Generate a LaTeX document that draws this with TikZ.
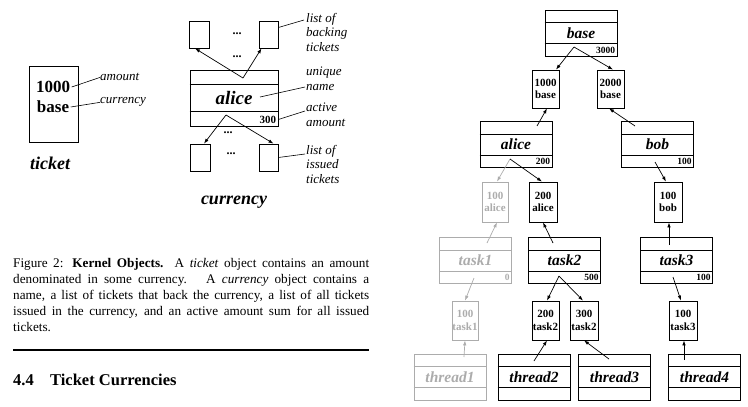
\documentclass[tikz,border=0pt]{standalone}
\usepackage{fontspec}
\setmainfont{Liberation Serif}
\usetikzlibrary{arrows.meta,calc}
\definecolor{lg}{RGB}{172,172,172}
\tikzset{
  box/.style={draw, line width=0.8pt, inner sep=0pt},
  tk/.style={box, minimum width=27pt, minimum height=38pt, align=center, font=\fontsize{11}{12.5}\selectfont\bfseries},
  smtk/.style={box, minimum width=20pt, minimum height=27pt},
  cb/.style={box, minimum width=72pt, minimum height=46pt, font=\fontsize{15.5}{16}\selectfont\bfseries\itshape},
  amt/.style={anchor=south east, inner xsep=2pt, inner ysep=3pt, font=\fontsize{9.5}{10}\selectfont\bfseries},
  arr/.style={line width=0.7pt, -{Latex[length=5pt,width=3.5pt]}},
  lbl/.style={anchor=west, align=left, inner sep=0pt, font=\fontsize{13}{14.5}\selectfont\itshape},
  thin/.style={line width=0.6pt},
  dots/.style={font=\fontsize{12}{12}\selectfont\bfseries, inner sep=0pt},
}
\newcommand\currbox[6][black]{%
  \node[cb, draw=#1, text=#1] (#2) at (#3,#4) {#5};
  \draw[#1, line width=0.8pt] ([yshift=-13pt]#2.north west) -- ([yshift=-13pt]#2.north east);
  \draw[#1, line width=0.8pt] ([yshift=13pt]#2.south west) -- ([yshift=13pt]#2.south east);
  \node[amt, text=#1] (#2amt) at (#2.south east) {#6};
}
\begin{document}
\begin{tikzpicture}[x=1pt,y=-1pt]
\useasboundingbox (0,0) rectangle (748,407);

% ---------------- ticket ----------------
\node[box, minimum width=49pt, minimum height=76pt] (ticket) at (53.5,104) {};
\node[font=\fontsize{17}{17}\selectfont\bfseries, inner sep=1.5pt] (tamt) at (53,87) {1000};
\node[font=\fontsize{17}{17}\selectfont\bfseries, inner sep=1.5pt] (tcur) at (53,107) {base};
\node[lbl, anchor=base west] (lamount) at (100,80) {amount};
\node[lbl, anchor=base west] (lcurrency) at (100,103) {currency};
\draw[thin] (tamt.east) -- ([yshift=-1pt]lamount.west);
\draw[thin] (tcur.east) -- ([yshift=-1pt]lcurrency.west);
\node[font=\fontsize{18}{18}\selectfont\bfseries\itshape] (tickettitle) at (50,163) {ticket};

% ---------------- currency ----------------
\node[smtk] (tb1) at (199,34.5) {};
\node[smtk, minimum width=19pt] (tb2) at (268.5,34.5) {};
\node[dots] (d1) at (237,34) {...};
\node[dots] (d2) at (237,57) {...};
\node[box, minimum width=88pt, minimum height=56pt, font=\fontsize{19}{19}\selectfont\bfseries\itshape] (calice) at (234,98) {alice};
\draw[line width=0.8pt] ([yshift=-15pt]calice.north west) -- ([yshift=-15pt]calice.north east);
\draw[line width=0.8pt] ([yshift=15pt]calice.south west) -- ([yshift=15pt]calice.south east);
\node[anchor=south east, inner xsep=2pt, inner ysep=3pt, font=\fontsize{11}{11}\selectfont\bfseries] (calamt) at (calice.south east) {300};
\coordinate (caup) at (243,78);
\coordinate (cadn) at (226,115);
\node[smtk] (ib1) at (200,157.5) {};
\node[smtk, minimum width=19pt] (ib2) at (268.5,157.5) {};
\node[dots] (d3) at (228,133) {...};
\node[dots] (d4) at (231,154) {...};
\draw[arr] (caup) -- ($(tb1.south)+(-4,0)$);
\draw[arr] (caup) -- ($(tb2.south)+(-7,0)$);
\draw[arr] (cadn) -- ($(ib1.north)+(4,0)$);
\draw[arr] (cadn) -- ($(ib2.north)+(5,0)$);

\node[lbl] (lback) at (306,32) {list of\\backing\\tickets};
\node[lbl] (luniq) at (306,79) {unique\\name};
\node[lbl] (lact) at (306,115) {active\\amount};
\node[lbl] (liss) at (306,164) {list of\\issued\\tickets};
\coordinate (cname) at (260,97);
\draw[thin] ([yshift=7pt]tb2.east) -- ([yshift=12pt,xshift=-2pt]lback.west);
\draw[thin] (cname) -- ([yshift=-8pt,xshift=-1pt]luniq.west);
\draw[thin] (calamt.east) -- ([yshift=4pt,xshift=-1pt]lact.west);
\draw[thin] (ib2.east) -- ([yshift=10pt,xshift=-1pt]liss.west);
\node[font=\fontsize{18}{18}\selectfont\bfseries\itshape] (currtitle) at (234,202) {currency};

% ---------------- caption ----------------
\node[anchor=north west, inner sep=0pt, text width=356pt, align=justify, font=\fontsize{13.2}{16}\selectfont] (cap) at (13,258)
{Figure 2: \textbf{Kernel Objects.} A \textit{ticket} object contains an amount\linebreak
denominated in some currency. \ A \textit{currency} object contains a\linebreak
name, a list of tickets that back the currency, a list of all tickets\linebreak
issued in the currency, and an active amount sum for all issued\linebreak
tickets.};
\coordinate (rl) at (13,350);
\coordinate (rr) at (369,350);
\draw[line width=2.8pt] (rl) -- (rr);
\node[anchor=base west, inner sep=0pt, font=\fontsize{16.5}{16.5}\selectfont\bfseries] (secnum) at (13,385) {4.4};
\node[anchor=base west, inner sep=0pt, font=\fontsize{16.5}{16.5}\selectfont\bfseries] (sectitle) at (50,385) {Ticket Currencies};

% ---------------- tree ----------------
\currbox{base}{581}{33}{base}{3000}
\currbox{alice}{516}{144.5}{alice}{200}
\currbox{bob}{657.5}{144.5}{bob}{100}
\currbox[lg]{task1}{475.5}{260.5}{task1}{0}
\currbox{task2}{564.5}{260.5}{task2}{500}
\currbox{task3}{676.5}{260.5}{task3}{100}
\currbox[lg]{thread1}{450}{377}{thread1}{}
\currbox{thread2}{534}{377}{thread2}{}
\currbox{thread3}{614.5}{377}{thread3}{}
\currbox{thread4}{704.5}{377}{thread4}{}

\node[tk] (t1000) at (545.5,89) {1000\\base};
\node[tk] (t2000) at (610.5,89) {2000\\base};
\node[tk, draw=lg, text=lg, minimum width=26pt, minimum height=40pt] (ta100) at (495,202) {100\\alice};
\node[tk, minimum width=28pt, minimum height=40pt] (ta200) at (543,202) {200\\alice};
\node[tk, minimum width=28pt, minimum height=40pt] (tb100) at (668,202) {100\\bob};
\node[tk, draw=lg, text=lg, minimum width=26pt, minimum height=39pt] (tt1) at (465,320.5) {100\\task1};
\node[tk, minimum height=39pt] (t2a) at (545.5,320.5) {200\\task2};
\node[tk, minimum width=28pt, minimum height=39pt] (t2b) at (584,320.5) {300\\task2};
\node[tk, minimum width=28pt, minimum height=39pt] (t3) at (683,320.5) {100\\task3};

\coordinate (baseo) at (574,47);
\coordinate (alicei) at (537,126);
\coordinate (aliceo) at (510,159);
\coordinate (bobi) at (635,126);
\coordinate (bobo) at (655,162);
\coordinate (task1i) at (487,243);
\coordinate (task1o) at (474,278);
\coordinate (task2i) at (553,243);
\coordinate (task2o) at (559,276);
\coordinate (task3i) at (669,245);
\coordinate (task3o) at (673,277);
\coordinate (thread1i) at (464,357);
\coordinate (thread2i) at (534,361);
\coordinate (thread3i) at (609,359);
\coordinate (thread4i) at (684,360);

\draw[arr] (baseo) -- ($(t1000.north)+(10.5,0)$);
\draw[arr] (baseo) -- ($(t2000.north)+(2.5,0)$);
\draw[arr] (alicei) -- ($(t1000.south)+(1.5,0)$);
\draw[arr] (bobi) -- ($(t2000.south)+(-1.5,0)$);
\draw[arr, lg] (aliceo) -- ($(ta100.north)+(2,0)$);
\draw[arr] (aliceo) -- ($(ta200.north)+(-1,0)$);
\draw[arr] (bobo) -- ($(tb100.north)+(-2,0)$);
\draw[arr, lg] (task1i) -- ($(ta100.south)+(2,0)$);
\draw[arr] (task2i) -- (ta200.south);
\draw[arr] (task3i) -- ($(tb100.south)+(1,0)$);
\draw[arr, lg] (task1o) -- (tt1.north);
\draw[arr] (task2o) -- ($(t2a.north)+(1.5,0)$);
\draw[arr] (task2o) -- ($(t2b.north)+(-1,0)$);
\draw[arr] (task3o) -- ($(t3.north)+(-2,0)$);
\draw[arr, lg] (thread1i) -- (tt1.south);
\draw[arr] (thread2i) -- ($(t2a.south)+(1.5,0)$);
\draw[arr] (thread3i) -- (t2b.south);
\draw[arr] (thread4i) -- ($(t3.south)+(1,0)$);
\end{tikzpicture}
\end{document}
